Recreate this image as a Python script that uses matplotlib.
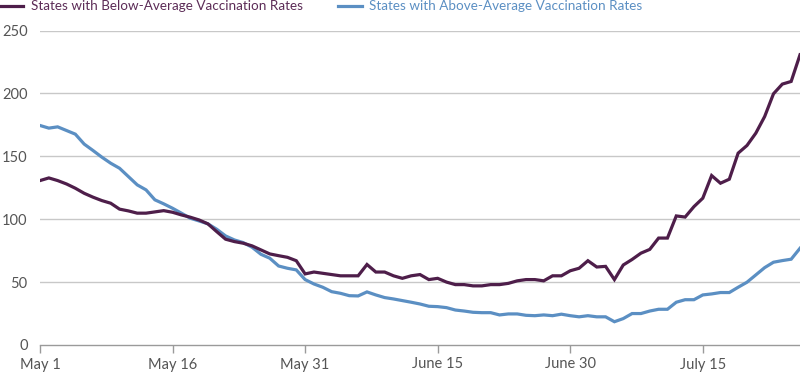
import matplotlib
matplotlib.use("Agg")
import matplotlib.pyplot as plt
from matplotlib.lines import Line2D
import numpy as np
import pandas as pd

plt.rcParams['font.family'] = ['Lato', 'DejaVu Sans']

dates = pd.date_range("2021-05-01", "2021-07-26", freq="D")

below_avg = [130.7, 132.8, 130.7, 128, 124.6, 120.6, 117.5, 114.8, 112.7, 108,
             106.6, 104.8, 104.8, 105.8, 106.8, 105.5, 103.4, 101.6, 99.4, 96.3,
             90.1, 84.1, 82.2, 80.9, 78.8, 75.6, 72.4, 71, 69.7, 67,
             56.5, 58, 57, 56, 55, 55, 55, 64, 58, 58,
             55, 53, 55, 56, 52, 53, 50, 48, 48, 47,
             47, 48, 48, 49, 51, 52, 52, 51, 55, 55,
             59, 61, 67, 62, 62.5, 52, 63.6, 68, 73, 76,
             85, 85, 102.6, 101.7, 110, 116.7, 134.7, 128.6, 131.8, 152.5,
             158.6, 168.4, 181.6, 199.7, 207.4, 209.5, 230.7]

above_avg = [174.5, 172.4, 173.4, 170.5, 167.6, 159.7, 154.6, 149.3, 144.5, 140.5,
             133.9, 127.3, 123.3, 115.4, 112.2, 108.7, 104.8, 100.8, 98.6, 96.3,
             92, 86.7, 83.5, 81.4, 77.7, 72.1, 69, 62.8, 61, 59.7,
             52, 48.5, 45.9, 42.4, 41.1, 39.2, 39, 42.2, 39.8, 37.7,
             36.6, 35.3, 34, 32.6, 30.8, 30.5, 29.7, 27.8, 27, 26,
             25.7, 25.7, 23.9, 24.7, 24.7, 23.6, 23.3, 23.9, 23.3, 24.5,
             23.3, 22.4, 23.3, 22.4, 22.4, 18.5, 21, 25, 25, 27,
             28.4, 28.4, 34, 36, 36, 39.8, 40.6, 41.7, 41.7, 45.9,
             49.9, 55.7, 61.5, 65.8, 67.1, 68.2, 76.9]

tick_dates = pd.to_datetime(["2021-05-01", "2021-05-16", "2021-05-31",
                             "2021-06-15", "2021-06-30", "2021-07-15"])
tick_labels = ["May 1", "May 16", "May 31", "June 15", "June 30", "July 15"]
y_ticks = [0, 50, 100, 150, 200, 250]

series_names = ["States with Below-Average Vaccination Rates",
                "States with Above-Average Vaccination Rates"]

PURPLE = "#4E1E4A"
PURPLE_TXT = "#5C2C57"
BLUE = "#5B8FC3"
GRID = "#C8C8C8"
TXT = "#555555"

fig = plt.figure(figsize=(8, 3.75), dpi=100)
ax = fig.add_axes([40/800, 30/375, 760/800, 314.5/375])

ax.plot(dates, above_avg, color=BLUE, lw=2.3, solid_joinstyle='miter', zorder=3)
ax.plot(dates, below_avg, color=PURPLE, lw=2.3, solid_joinstyle='miter', zorder=4)

ax.set_xlim(dates[0], dates[-1])
ax.set_ylim(0, 250)
ax.set_yticks(y_ticks)
ax.set_yticklabels([str(v) for v in y_ticks])
ax.set_xticks(tick_dates)
ax.set_xticklabels(tick_labels)

for v in y_ticks[1:]:
    ax.axhline(v, color=GRID, lw=1.0, zorder=1)

for s in ["top", "right", "left"]:
    ax.spines[s].set_visible(False)
ax.spines["bottom"].set_color("#9A9A9A")
ax.spines["bottom"].set_linewidth(1.0)

ax.tick_params(axis='y', length=0, pad=9, labelsize=10.5, labelcolor=TXT)
ax.tick_params(axis='x', length=6, width=1.0, color="#9A9A9A", pad=3,
               labelsize=10.5, labelcolor=TXT, direction='out')
for lab in ax.get_yticklabels():
    lab.set_horizontalalignment('right')

# legend at top
ly = 1 - 6/375
fig.add_artist(Line2D([0/800, 23/800], [ly, ly], color=PURPLE, lw=2.3,
                      transform=fig.transFigure))
fig.text(31/800, ly, series_names[0], color=PURPLE_TXT, fontsize=9.7,
         va='center', ha='left')
fig.add_artist(Line2D([338/800, 362/800], [ly, ly], color=BLUE, lw=2.3,
                      transform=fig.transFigure))
fig.text(369/800, ly, series_names[1], color=BLUE, fontsize=9.7,
         va='center', ha='left')

fig.savefig("out.png", dpi=100)
